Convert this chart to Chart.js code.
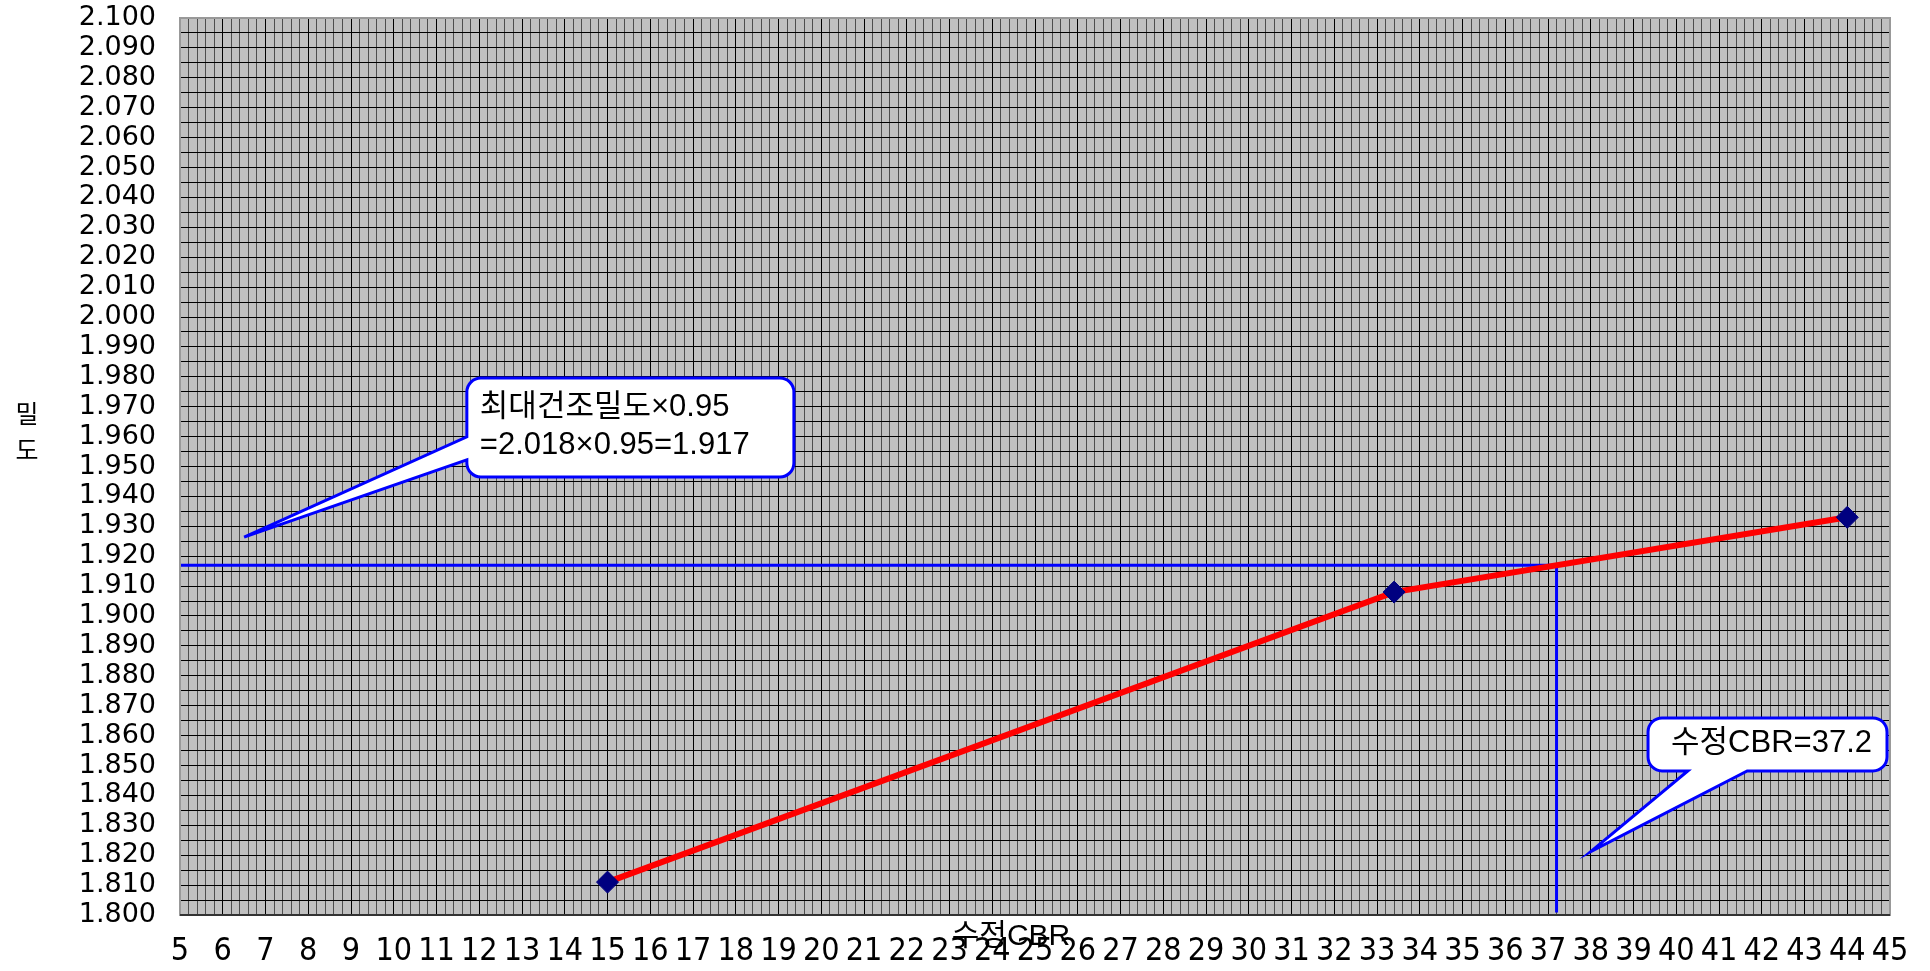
<!DOCTYPE html>
<html>
<head>
<meta charset="utf-8">
<script src="https://cdn.jsdelivr.net/npm/chart.js@4.4.0/dist/chart.umd.min.js"></script>
<style>
body { margin: 0; background: #fff; }
</style>
</head>
<body>
<canvas id="myChart" width="1930" height="971"></canvas>
<script>
// measured points: 수정CBR vs 건조밀도
const cbrValues = [15, 33.4, 44];
const densityValues = [1.811, 1.908, 1.933];

// design values
const maxDryDensity = 2.018;
const densityFactor = 0.95;
const targetDensity = 1.917;
const modifiedCbr = 37.2;

// axis ranges / grid steps
const xRange = [5, 45];
const xMinorStep = 0.2;
const yRange = [1.8, 2.1];
const yMinorStep = 0.005;

const ctx = document.getElementById("myChart").getContext("2d");

const cjk = "'Noto Sans CJK KR'";
const calloutFont = "31px 'Liberation Sans', " + cjk;

function drawCallout(c, box, tip, base, side) {
    const r = 14;
    const { l, t, rr, b } = box;
    c.beginPath();
    c.moveTo(l + r, t);
    c.lineTo(rr - r, t);
    c.arcTo(rr, t, rr, t + r, r);
    c.lineTo(rr, b - r);
    c.arcTo(rr, b, rr - r, b, r);
    if (side === "bottom") {
        c.lineTo(base[1], b);
        c.lineTo(tip.x, tip.y);
        c.lineTo(base[0], b);
    }
    c.lineTo(l + r, b);
    c.arcTo(l, b, l, b - r, r);
    if (side === "left") {
        c.lineTo(l, base[1]);
        c.lineTo(tip.x, tip.y);
        c.lineTo(l, base[0]);
    }
    c.lineTo(l, t + r);
    c.arcTo(l, t, l + r, t, r);
    c.closePath();
    c.fillStyle = "#fff";
    c.fill();
    c.lineWidth = 3;
    c.strokeStyle = "#0000ff";
    c.stroke();
}

const plotDecor = {
    id: "plotDecor",
    beforeDraw(chart) {
        const { ctx: c, chartArea: a } = chart;
        c.save();
        c.fillStyle = "#c0c0c0";
        c.fillRect(a.left, a.top, a.width, a.height);
        c.restore();
    },
    afterDatasetsDraw(chart) {
        const { ctx: c, chartArea: a, scales: { x, y } } = chart;
        c.save();

        // frame
        c.strokeStyle = "#999";
        c.lineWidth = 2;
        c.strokeRect(a.left, a.top, a.width, a.height);
        c.strokeStyle = "#333";
        c.beginPath();
        c.moveTo(a.left, a.bottom);
        c.lineTo(a.right, a.bottom);
        c.stroke();

        // callout 1 : max dry density x 0.95
        const box1 = { l: x.getPixelForValue(11.71), rr: x.getPixelForValue(19.36), t: y.getPixelForValue(1.9796), b: y.getPixelForValue(1.9465) };
        drawCallout(c, box1,
            { x: x.getPixelForValue(6.5), y: y.getPixelForValue(1.9264) },
            [y.getPixelForValue(1.9599), y.getPixelForValue(1.9522)], "left");
        c.fillStyle = "#000";
        c.font = calloutFont;
        c.textAlign = "left";
        c.textBaseline = "middle";
        c.fillText("최대건조밀도×" + densityFactor.toFixed(2), box1.l + 13, box1.t + 29);
        c.fillText("=" + maxDryDensity.toFixed(3) + "×" + densityFactor.toFixed(2) + "=" + targetDensity.toFixed(3), box1.l + 13, box1.t + 67);

        // callout 2 : modified CBR
        const box2 = { l: x.getPixelForValue(39.34), rr: x.getPixelForValue(44.93), t: y.getPixelForValue(1.8659), b: y.getPixelForValue(1.8482) };
        drawCallout(c, box2,
            { x: x.getPixelForValue(38.0), y: y.getPixelForValue(1.8212) },
            [x.getPixelForValue(40.27), x.getPixelForValue(41.66)], "bottom");
        c.fillStyle = "#000";
        c.textAlign = "center";
        c.fillText("수정CBR=" + modifiedCbr, (box2.l + box2.rr) / 2 + 4, (box2.t + box2.b) / 2 - 1);

        // axis titles
        c.font = "25px " + cjk;
        c.fillText("밀", 27, 413);
        c.fillText("도", 27, 449);
        c.font = "30px 'Liberation Sans', " + cjk;
        c.fillText("수정CBR", (a.left + a.right) / 2 - 24, 937);

        c.restore();
    }
};

const data = {
    datasets: [
        {
            label: "밀도",
            data: cbrValues.map((v, i) => ({ x: v, y: densityValues[i] })),
            borderColor: "#ff0000",
            borderWidth: 6,
            pointStyle: "rectRot",
            pointRadius: 11,
            pointBackgroundColor: "#000080",
            pointBorderColor: "#000080",
            pointBorderWidth: 1,
            order: 0,
        },
        {
            label: "guide",
            data: [
                { x: xRange[0], y: targetDensity },
                { x: modifiedCbr, y: targetDensity },
                { x: modifiedCbr, y: yRange[0] + 0.0008 },
            ],
            borderColor: "#0000ff",
            borderWidth: 3,
            pointRadius: 0,
            order: 1,
        }
    ]
};

const config = {
    type: "line",
    data: data,
    options: {
        responsive: false,
        devicePixelRatio: 1,
        animation: false,
        layout: { padding: { left: 0, right: 40, top: 18, bottom: 0 } },
        plugins: {
            legend: { display: false },
            tooltip: { enabled: false },
        },
        scales: {
            x: {
                type: "linear",
                min: xRange[0],
                max: xRange[1],
                afterFit: (s) => { s.height = 56; s.paddingLeft = 0; s.paddingRight = 0; },
                border: { display: false },
                grid: {
                    drawTicks: false,
                    lineWidth: 1,
                    color: (c) => Math.abs(c.tick.value - Math.round(c.tick.value)) < 1e-6 ? "#000" : "rgba(0,0,0,0.6)",
                },
                ticks: {
                    stepSize: xMinorStep,
                    autoSkip: false,
                    maxRotation: 0,
                    maxTicksLimit: 500,
                    padding: 17,
                    color: "#000",
                    font: { family: "'Liberation Sans Narrow', 'DejaVu Sans Condensed', sans-serif", size: 32 },
                    callback: (v) => Math.abs(v - Math.round(v)) < 1e-6 ? String(Math.round(v)) : "",
                },
            },
            y: {
                type: "linear",
                min: yRange[0],
                max: yRange[1],
                afterFit: (s) => { s.width = 180; s.paddingTop = 0; s.paddingBottom = 0; },
                border: { display: false },
                grid: {
                    drawTicks: false,
                    lineWidth: 1,
                    color: "#000",
                },
                ticks: {
                    stepSize: yMinorStep,
                    autoSkip: false,
                    maxTicksLimit: 500,
                    padding: 24,
                    color: "#000",
                    font: { family: "'DejaVu Sans', sans-serif", size: 27 },
                    callback: (v) => Math.round(v * 1000) % 10 === 0 ? Number(v).toFixed(3) : "",
                },
            },
        },
    },
    plugins: [plotDecor],
};

const myChart = new Chart(ctx, config);
</script>
</body>
</html>
